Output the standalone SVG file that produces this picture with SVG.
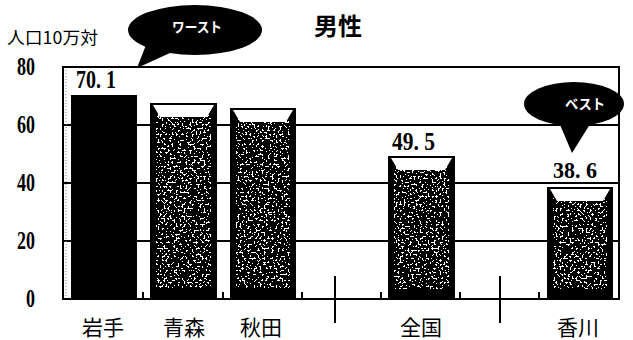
<svg xmlns="http://www.w3.org/2000/svg" width="633" height="340" viewBox="0 0 633 340">
<style>
.num{font-family:"Liberation Serif",serif;font-weight:bold;fill:#000}
.jp{font-family:"Noto Sans CJK JP",sans-serif;fill:#000}
.grid{stroke:#000;stroke-width:2}
.tick{stroke:#000;stroke-width:2}
.bar{fill:#000}
.cap{fill:#fff}
.call{fill:#000}
.calltxt{font-family:"Noto Sans CJK JP",sans-serif;font-weight:bold;fill:#fff;font-size:14px}
</style>
<defs>
<filter id="speck" x="0" y="0" width="1" height="1" color-interpolation-filters="sRGB">
<feTurbulence type="fractalNoise" baseFrequency="0.5" numOctaves="2" seed="7" result="n"/>
<feColorMatrix in="n" type="matrix" values="0 0 0 0 1  0 0 0 0 1  0 0 0 0 1  1 0 0 0 0" result="a"/>
<feComponentTransfer in="a"><feFuncA type="discrete" tableValues="0 0 0 0 0 0 0 0 0 0 0 0 1 1 1 1 1 1 1 1"/></feComponentTransfer>
</filter>
</defs>
<rect width="633" height="340" fill="#fff"/>

<g id="gridlines">
<line class="grid" x1="63" y1="125" x2="619" y2="125"/>
<line class="grid" x1="63" y1="183" x2="619" y2="183"/>
<line class="grid" x1="63" y1="241" x2="619" y2="241"/>
<line x1="66" y1="70" x2="66" y2="297" stroke="#888" stroke-width="1" stroke-dasharray="1 2"/>
</g>

<g id="bar-iwate">
<rect class="bar" x="71" y="95" width="66" height="204"/>
</g>
<g id="bar-aomori">
<rect class="bar" x="150" y="103" width="67" height="196"/>
<rect x="156" y="114" width="55" height="174" filter="url(#speck)"/>
<polygon class="cap" points="153,105 214,105 207,117 160,117"/>
</g>
<g id="bar-akita">
<rect class="bar" x="230" y="108" width="66" height="191"/>
<rect x="236" y="119" width="54" height="169" filter="url(#speck)"/>
<polygon class="cap" points="233,110 293,110 286,122 240,122"/>
</g>
<g id="bar-zenkoku">
<rect class="bar" x="388" y="156" width="67" height="143"/>
<rect x="394" y="167" width="55" height="122" filter="url(#speck)"/>
<polygon class="cap" points="391,158 452,158 445,170 398,170"/>
</g>
<g id="bar-kagawa">
<rect class="bar" x="547" y="187" width="66" height="112"/>
<rect x="553" y="198" width="54" height="91" filter="url(#speck)"/>
<polygon class="cap" points="550,189 610,189 603,201 557,201"/>
</g>

<g id="frame">
<rect x="63" y="67" width="556" height="232" fill="none" stroke="#000" stroke-width="2"/>
</g>

<g id="connectors">
<line class="tick" x1="143" y1="292" x2="143" y2="299"/>
<line class="tick" x1="223" y1="292" x2="223" y2="299"/>
<line class="tick" x1="302" y1="292" x2="302" y2="299"/>
<line class="tick" x1="381" y1="292" x2="381" y2="299"/>
<line class="tick" x1="460" y1="292" x2="460" y2="299"/>
<line class="tick" x1="539" y1="292" x2="539" y2="299"/>
<line class="tick" x1="335" y1="276" x2="335" y2="323"/>
<line class="tick" x1="500" y1="276" x2="500" y2="323"/>
</g>

<g id="callout-worst">
<ellipse class="call" cx="195" cy="30" rx="67" ry="25"/>
<polygon class="call" points="146,45 170,53 137,68"/>
<text class="calltxt" x="172" y="32" textLength="50" lengthAdjust="spacingAndGlyphs">ワースト</text>
</g>
<g id="callout-best">
<ellipse class="call" cx="574" cy="104" rx="50" ry="22"/>
<polygon class="call" points="558,120 592,121 572,153"/>
<text class="calltxt" x="565" y="109" textLength="40" lengthAdjust="spacingAndGlyphs">ベスト</text>
</g>

<g id="title">
<text class="jp" x="338" y="35" font-size="24" font-weight="bold" text-anchor="middle">男性</text>
<text class="jp" x="7" y="44" font-size="17" textLength="91" lengthAdjust="spacingAndGlyphs">人口10万対</text>
</g>

<g id="y-axis">
<text class="num" x="35" y="75" font-size="25" text-anchor="end" textLength="18" lengthAdjust="spacingAndGlyphs">80</text>
<text class="num" x="35" y="133" font-size="25" text-anchor="end" textLength="18" lengthAdjust="spacingAndGlyphs">60</text>
<text class="num" x="35" y="191" font-size="25" text-anchor="end" textLength="18" lengthAdjust="spacingAndGlyphs">40</text>
<text class="num" x="35" y="249" font-size="25" text-anchor="end" textLength="18" lengthAdjust="spacingAndGlyphs">20</text>
<text class="num" x="35" y="307" font-size="25" text-anchor="end" textLength="9" lengthAdjust="spacingAndGlyphs">0</text>
</g>

<g id="values">
<text class="num" x="76" y="88" font-size="25" textLength="40" lengthAdjust="spacingAndGlyphs">70. 1</text>
<text class="num" x="392" y="150" font-size="26" textLength="43" lengthAdjust="spacingAndGlyphs">49. 5</text>
<text class="num" x="553" y="178" font-size="24" textLength="44" lengthAdjust="spacingAndGlyphs">38. 6</text>
</g>

<g id="x-axis">
<text class="jp" x="103" y="335" font-size="21" text-anchor="middle">岩手</text>
<text class="jp" x="184" y="335" font-size="21" text-anchor="middle">青森</text>
<text class="jp" x="261" y="335" font-size="21" text-anchor="middle">秋田</text>
<text class="jp" x="421" y="335" font-size="21" text-anchor="middle">全国</text>
<text class="jp" x="578" y="335" font-size="21" text-anchor="middle">香川</text>
</g>
</svg>
